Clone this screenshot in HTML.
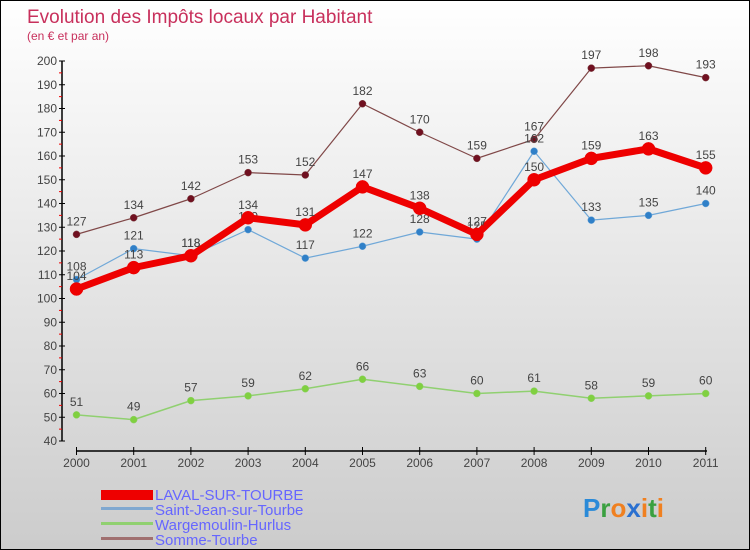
<!DOCTYPE html>
<html><head><meta charset="utf-8"><style>
body{margin:0}
#c{position:relative;width:748px;height:548px;border:1px solid #000;background:linear-gradient(#ffffff,#cccccc);font-family:"Liberation Sans",sans-serif;overflow:hidden}
</style></head><body>
<div id="c">
<svg id="s" width="748" height="548" style="position:absolute;left:0;top:0">
<text x="26" y="22" font-size="19" fill="#c8305c">Evolution des Impôts locaux par Habitant</text>
<text x="26" y="39" font-size="12" fill="#c8305c">(en € et par an)</text>
<g id="axes"></g><g id="series"></g>
<g>
<rect x="100" y="489" width="52" height="10" fill="#e00"/>
<text x="154" y="499" font-size="15" fill="#6666ff">LAVAL-SUR-TOURBE</text>
<rect x="100" y="506" width="52" height="3" fill="#80a8d0"/>
<text x="154" y="514" font-size="15" fill="#6666ff">Saint-Jean-sur-Tourbe</text>
<rect x="100" y="521" width="52" height="3" fill="#90d070"/>
<text x="154" y="529" font-size="15" fill="#6666ff">Wargemoulin-Hurlus</text>
<rect x="100" y="536" width="52" height="3" fill="#a07070"/>
<text x="154" y="544" font-size="15" fill="#6666ff">Somme-Tourbe</text>
</g>
<text x="582" y="516" font-size="26" font-weight="bold"><tspan fill="#2a8ad8">P</tspan><tspan fill="#3aa040">r</tspan><tspan fill="#f08020">o</tspan><tspan fill="#2a70d0">x</tspan><tspan fill="#f08020">i</tspan><tspan fill="#3aa040">t</tspan><tspan fill="#f08020">i</tspan></text>
</svg>
</div>
<script>
const years=[2000,2001,2002,2003,2004,2005,2006,2007,2008,2009,2010,2011];
const yTicks=[40,50,60,70,80,90,100,110,120,130,140,150,160,170,180,190,200];
const laval=[104,113,118,134,131,147,138,127,150,159,163,155];
const saintJean=[108,121,118,129,117,122,128,125,162,133,135,140];
const wargemoulin=[51,49,57,59,62,66,63,60,61,58,59,60];
const somme=[127,134,142,153,152,182,170,159,167,197,198,193];
const NS="http://www.w3.org/2000/svg";
const X=i=>75.5+i*57.2;
const Y=v=>440-(v-40)*2.375;
function mk(t,a,p){const e=document.createElementNS(NS,t);for(const k in a)e.setAttribute(k,a[k]);p.appendChild(e);return e;}
const ax=document.getElementById('axes');
let e=mk('line',{x1:61,y1:Y(200),x2:61,y2:Y(40),stroke:'#000','stroke-width':1.5},ax);

e=mk('line',{x1:75,y1:450,x2:706,y2:450,stroke:'#000','stroke-width':1.5},ax);

yTicks.forEach(v=>{
  mk('line',{x1:58,y1:Y(v),x2:64,y2:Y(v),stroke:'#000'},ax);
  if(v<200)mk('line',{x1:58,y1:Y(v+5),x2:61,y2:Y(v+5),stroke:'#e00'},ax);
  const t=mk('text',{x:56,y:Y(v)+4,'font-size':12,'text-anchor':'end',fill:'#444'},ax);t.textContent=v;
  
});
years.forEach((yr,i)=>{
  mk('line',{x1:X(i),y1:446,x2:X(i),y2:454,stroke:'#000'},ax);
  const t=mk('text',{x:X(i),y:466,'font-size':12,'text-anchor':'middle',fill:'#444'},ax);t.textContent=yr;
  
});
const sg=document.getElementById('series');
function draw(data,name,lc,pc,w,r){
  const g=mk('g',{},sg);
  
  
  const l=mk('polyline',{points:data.map((v,i)=>X(i)+','+Y(v)).join(' '),fill:'none',stroke:lc,'stroke-width':w,'stroke-linejoin':'round'},g);
  
  
  data.forEach((v,i)=>{
    const c=mk('circle',{cx:X(i),cy:Y(v),r:r,fill:pc,stroke:lc,'stroke-width':0.5},g);
    
    
    const t=mk('text',{x:X(i),y:Y(v)-9,'font-size':12,'text-anchor':'middle',fill:'#444'},g);
    t.textContent=v;
    
    
  });
}
draw(wargemoulin,'wargemoulin','#90d070','#80d040',1.5,3.5);
draw(somme,'somme','#804848','#701020',1.2,3.5);
draw(saintJean,'saint-jean','#70a8d8','#3080c8',1.2,3.5);
draw(laval,'laval','#ee0000','#ee0000',7,6.5);
</script>
</body></html>
